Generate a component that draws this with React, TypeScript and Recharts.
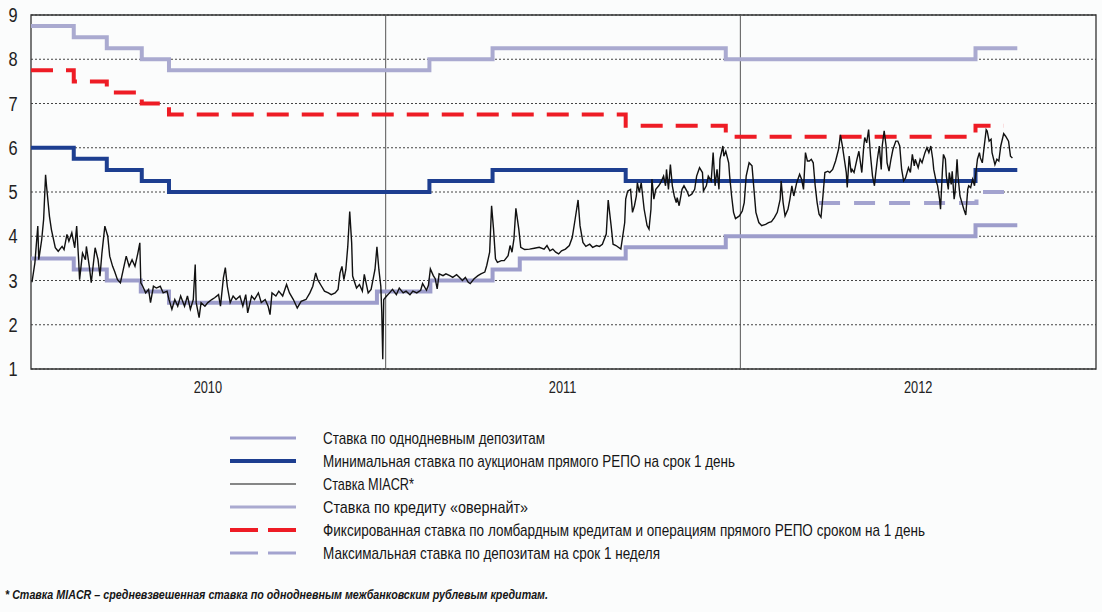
import { LineChart, Line, XAxis, YAxis, CartesianGrid, ReferenceLine, ReferenceArea } from 'recharts';

// x = days since 1 Jan 2010
const yearLabels = ['2010', '2011', '2012'];
const yearMidDays = [182, 547, 913];
const yearBreakDays = [365, 730];
const rateTicks = [1, 2, 3, 4, 5, 6, 7, 8, 9];

const depositDays = [0, 44, 78, 113, 142, 356, 411, 475, 503, 612, 715, 972, 1015];
const depositRates = [3.5, 3.25, 3.0, 2.75, 2.5, 2.75, 3.0, 3.25, 3.5, 3.75, 4.0, 4.25, 4.25];

const repoMinDays = [0, 44, 78, 114, 142, 410, 475, 612, 972, 1015];
const repoMinRates = [6.0, 5.75, 5.5, 5.25, 5.0, 5.25, 5.5, 5.25, 5.5, 5.5];

const overnightDays = [0, 44, 78, 114, 142, 410, 475, 715, 972, 1015];
const overnightRates = [8.75, 8.5, 8.25, 8.0, 7.75, 8.0, 8.25, 8.0, 8.25, 8.25];

const lombardDays = [0, 44, 78, 114, 142, 612, 715, 972, 1001];
const lombardRates = [7.75, 7.5, 7.25, 7.0, 6.75, 6.5, 6.25, 6.5, 6.5];

const weekDepDays = [811, 973, 1005];
const weekDepRates = [4.75, 5.0, 5.0];

const miacrDays = [
  1, 4, 7, 8, 11, 13, 15, 16, 19, 21, 25, 28, 32, 34, 37, 39, 42, 45, 47, 49, 50, 53, 56, 57, 60, 62, 66, 69, 71, 73,
  76, 79, 81, 84, 86, 89, 92, 95, 98, 101, 104, 107, 110, 112, 113, 115, 118, 121, 123, 126, 129, 133, 136, 140, 142,
  145, 148, 151, 154, 158, 161, 164, 167, 169, 170, 173, 175, 179, 182, 186, 189, 193, 195, 198, 200, 202, 205, 208,
  211, 215, 218, 221, 223, 227, 230, 234, 237, 241, 244, 246, 248, 252, 255, 259, 263, 266, 270, 274, 278, 283, 287,
  290, 293, 295, 299, 302, 306, 309, 313, 316, 318, 320, 322, 324, 326, 328, 330, 331, 335, 338, 341, 343, 347, 350,
  354, 356, 358, 360, 361, 362, 363, 366, 369, 372, 376, 379, 383, 386, 390, 393, 397, 401, 403, 407, 409, 411, 414,
  416, 418, 420, 424, 427, 431, 434, 438, 441, 444, 447, 450, 452, 456, 460, 463, 467, 469, 472, 474, 476, 478, 480,
  484, 487, 491, 493, 495, 497, 499, 502, 504, 508, 513, 518, 523, 528, 531, 534, 537, 540, 543, 546, 550, 554, 557,
  560, 563, 565, 568, 571, 575, 578, 582, 585, 588, 592, 594, 597, 599, 602, 607, 609, 611, 612, 614, 617, 619, 621,
  623, 624, 626, 628, 631, 634, 636, 638, 639, 641, 643, 646, 648, 651, 653, 654, 656, 658, 660, 662, 664, 665, 667,
  670, 672, 675, 677, 680, 683, 685, 688, 691, 692, 695, 697, 700, 702, 704, 706, 708, 709, 712, 713, 715, 718, 719,
  721, 723, 725, 729, 732, 734, 736, 739, 742, 744, 746, 749, 752, 756, 759, 762, 765, 768, 771, 772, 774, 776, 779,
  781, 783, 785, 788, 791, 793, 795, 797, 799, 801, 803, 805, 807, 809, 811, 813, 815, 817, 820, 822, 825, 828, 831,
  833, 835, 837, 839, 840, 842, 844, 845, 847, 850, 852, 855, 857, 858, 860, 862, 864, 866, 868, 869, 871, 873, 875,
  876, 878, 880, 881, 883, 885, 887, 890, 892, 894, 896, 898, 900, 903, 905, 907, 909, 910, 913, 915, 917, 920, 922,
  924, 926, 928, 929, 931, 933, 935, 936, 938, 939, 941, 942, 944, 945, 947, 948, 950, 951, 953, 954, 956, 958, 960,
  962, 964, 965, 967, 969, 971, 972, 974, 976, 977, 979, 981, 983, 984, 986, 988, 989, 992, 994, 996, 998, 1001, 1003,
  1006, 1008, 1010,
];
const miacrRates = [
  2.96, 3.4, 4.23, 3.47, 3.92, 4.38, 5.39, 5.13, 4.45, 4.15, 3.74, 3.66, 3.77, 3.7, 4.04, 3.89, 4.08, 3.74, 4.23, 3.47,
  3.02, 3.62, 3.47, 3.77, 3.32, 2.95, 3.74, 3.47, 3.1, 3.62, 4.23, 4.0, 3.55, 3.32, 3.21, 3.02, 2.95, 3.25, 3.55, 3.32,
  3.47, 3.32, 3.62, 3.85, 2.95, 2.87, 2.72, 2.8, 2.5, 2.87, 2.83, 2.87, 2.72, 2.76, 2.57, 2.35, 2.57, 2.42, 2.65, 2.42,
  2.65, 2.35, 2.57, 3.36, 2.5, 2.16, 2.5, 2.42, 2.5, 2.57, 2.61, 2.68, 2.42, 3.06, 3.29, 2.87, 2.5, 2.65, 2.57, 2.65,
  2.42, 2.68, 2.27, 2.65, 2.57, 2.72, 2.5, 2.57, 2.42, 2.23, 2.72, 2.65, 2.76, 2.65, 2.91, 2.72, 2.57, 2.38, 2.53, 2.57,
  2.72, 2.87, 3.17, 3.02, 2.87, 2.76, 2.72, 2.68, 2.72, 2.8, 3.17, 3.32, 3.02, 3.25, 3.77, 4.56, 3.85, 3.1, 2.83, 2.91,
  2.76, 3.14, 2.72, 2.8, 3.25, 3.76, 3.25, 2.87, 2.27, 1.22, 2.57, 2.65, 2.72, 2.8, 2.68, 2.83, 2.72, 2.76, 2.68, 2.76,
  2.72, 2.78, 2.93, 2.78, 2.89, 3.26, 3.11, 3.04, 2.81, 3.15, 3.11, 3.15, 3.11, 3.07, 3.13, 3.07, 3.0, 3.07, 2.96, 2.93,
  3.04, 3.11, 3.15, 3.19, 3.34, 3.64, 4.69, 4.16, 3.49, 3.41, 3.45, 3.45, 3.56, 3.79, 3.64, 3.94, 4.63, 4.16, 3.75, 3.7,
  3.71, 3.73, 3.75, 3.71, 3.79, 3.67, 3.71, 3.64, 3.6, 3.67, 3.71, 3.79, 3.97, 4.39, 4.82, 4.24, 3.86, 3.77, 3.82, 3.75,
  3.79, 3.77, 3.82, 4.05, 4.82, 4.24, 3.82, 3.79, 3.71, 4.01, 4.31, 4.84, 5.02, 5.06, 4.54, 4.69, 4.91, 5.21, 4.99, 5.21,
  4.61, 4.24, 4.16, 4.61, 5.29, 4.84, 5.06, 5.14, 5.21, 5.36, 5.14, 5.51, 5.06, 5.62, 5.14, 4.91, 4.76, 4.87, 4.69, 5.06,
  5.14, 5.02, 4.91, 4.95, 5.06, 5.36, 5.55, 5.44, 5.02, 5.14, 5.36, 5.25, 5.89, 5.14, 5.51, 5.06, 5.74, 6.04, 5.81, 5.92,
  5.66, 5.36, 4.91, 4.54, 4.4, 4.46, 4.57, 4.76, 5.36, 5.66, 5.59, 5.06, 4.54, 4.31, 4.24, 4.27, 4.31, 4.33, 4.42, 4.54,
  4.84, 5.25, 4.76, 4.46, 4.61, 4.84, 5.14, 4.91, 5.21, 5.4, 5.29, 5.06, 5.89, 5.7, 5.7, 5.74, 5.66, 5.14, 4.76, 4.5,
  4.43, 4.91, 5.44, 5.47, 5.44, 5.51, 5.7, 5.96, 6.29, 6.04, 5.74, 5.44, 5.1, 5.81, 5.44, 5.51, 5.44, 5.74, 5.92, 5.44,
  6.04, 6.23, 6.11, 6.41, 5.81, 5.36, 5.14, 5.36, 5.74, 6.04, 5.51, 6.04, 6.38, 6.04, 5.66, 5.47, 5.74, 5.96, 6.15, 6.15,
  6.04, 5.51, 5.25, 5.32, 5.55, 5.44, 5.85, 5.59, 5.74, 5.55, 5.74, 5.66, 5.89, 6.0, 5.89, 6.04, 5.74, 5.51, 5.29, 5.14,
  4.84, 4.61, 5.51, 5.85, 5.74, 5.36, 5.06, 5.44, 5.17, 5.47, 4.84, 4.99, 5.74, 5.36, 4.91, 4.76, 4.61, 4.48, 5.06, 5.14,
  5.1, 5.29, 5.14, 5.36, 5.74, 5.89, 5.77, 5.66, 6.04, 6.41, 6.38, 6.15, 6.19, 5.89, 5.62, 5.74, 5.7, 6.04, 6.32, 6.26,
  6.15, 5.81, 5.77,
];

const legendNames = [
  'Ставка по однодневным депозитам',
  'Минимальная ставка по аукционам прямого РЕПО на срок 1 день',
  'Ставка MIACR*',
  'Ставка по кредиту «овернайт»',
  'Фиксированная ставка по ломбардным кредитам и операциям прямого РЕПО сроком на 1 день',
  'Максимальная ставка по депозитам на срок 1 неделя',
];
const footnote = '* Ставка MIACR – средневзвешенная ставка по однодневным межбанковским рублевым кредитам.';

// the original uses a condensed face; squeeze Liberation Sans to the same text widths
const font = "'Liberation Sans', Arial, sans-serif";
const legendTextWidths = [222, 412, 91, 205, 602, 337];
const footnoteWidth = 543;

const toPoints = (days: number[], rates: number[]) => days.map((day, i) => ({ day, rate: rates[i] }));

const styles = [
  { color: '#9d9dcb', width: 4, dash: undefined as string | undefined },
  { color: '#1d3e90', width: 4, dash: undefined },
  { color: '#111111', width: 1.4, dash: undefined },
  { color: '#aaaad0', width: 4, dash: undefined },
  { color: '#ee1c25', width: 4, dash: '22 13' },
  { color: '#a3a3cf', width: 4, dash: '21 14' },
];

const YTick = ({ y, payload }: any) => (
  <text transform={`translate(13,${y + 7}) scale(0.78,1)`} textAnchor="middle" fontSize={21} fontFamily={font} fill="#222">
    {payload.value}
  </text>
);

// recharts hands the tick a y already 8px below the axis
const XTick = ({ x, y, payload }: any) => (
  <text transform={`translate(${x},${y + 16}) scale(0.8,1)`} textAnchor="middle" fontSize={16} fontFamily={font} fill="#222">
    {yearLabels[yearMidDays.indexOf(payload.value)]}
  </text>
);

const FitText = ({ text, width, size, italic }: { text: string; width: number; size: number; italic?: boolean }) => (
  <svg width={Math.round(width * 1.45)} height={size + 10} overflow="visible" style={{ display: 'block', overflow: 'visible' }}>
    <text
      x={0}
      y={size + 1}
      textLength={width}
      lengthAdjust="spacingAndGlyphs"
      fontSize={size}
      fontFamily={font}
      fontStyle={italic ? 'italic' : 'normal'}
      fontWeight={italic ? 'bold' : 'normal'}
      fill="#151515"
    >
      {text}
    </text>
  </svg>
);

export default function App() {
  const series = [
    toPoints(depositDays, depositRates),
    toPoints(repoMinDays, repoMinRates),
    toPoints(miacrDays, miacrRates),
    toPoints(overnightDays, overnightRates),
    toPoints(lombardDays, lombardRates),
    toPoints(weekDepDays, weekDepRates),
  ];
  // draw order: light lines first, MIACR on top
  const order = [0, 3, 5, 4, 1, 2];

  return (
    <div style={{ position: 'relative', width: 1102, height: 612, background: '#fbfcfc', overflow: 'hidden' }}>
      <style>{`body{margin:0}`}</style>
      <LineChart width={1102} height={400} margin={{ top: 15, right: 6, left: 0, bottom: 0 }}>
        <CartesianGrid vertical={false} stroke="#444" strokeDasharray="2 2" />
        <XAxis
          type="number"
          dataKey="day"
          domain={[0, 1096]}
          ticks={yearMidDays}
          tick={<XTick />}
          tickLine={false}
          axisLine={false}
          height={31}
          allowDuplicatedCategory={false}
        />
        <YAxis
          type="number"
          domain={[1, 9]}
          ticks={rateTicks}
          tick={<YTick />}
          tickLine={false}
          axisLine={false}
          width={31}
        />
        {yearBreakDays.map((d) => (
          <ReferenceLine key={d} x={d} stroke="#555" strokeWidth={1} />
        ))}
        <ReferenceArea x1={0} x2={1096} y1={1} y2={9} fill="none" stroke="#333" strokeWidth={1.3} />
        {order.map((i) => (
          <Line
            key={i}
            data={series[i]}
            dataKey="rate"
            type={i === 2 ? 'linear' : 'stepAfter'}
            stroke={styles[i].color}
            strokeWidth={styles[i].width}
            strokeDasharray={styles[i].dash}
            dot={false}
            activeDot={false}
            isAnimationActive={false}
          />
        ))}
      </LineChart>

      {legendNames.map((name, i) => (
        <div key={name} style={{ position: 'absolute', left: 230, top: 426 + i * 23, height: 24, display: 'flex', alignItems: 'center' }}>
          <svg width={66} height={20} style={{ display: 'block' }}>
            <line
              x1={0}
              x2={66}
              y1={10}
              y2={10}
              stroke={styles[i].color}
              strokeWidth={i === 2 ? 1.2 : i === 1 || i === 4 ? 4 : 3}
              strokeDasharray={styles[i].dash ? '28 10' : undefined}
            />
          </svg>
          <div style={{ marginLeft: 27, marginTop: 2 }}>
            <FitText text={name} width={legendTextWidths[i]} size={17} />
          </div>
        </div>
      ))}

      <div style={{ position: 'absolute', left: 5, top: 585 }}>
        <FitText text={footnote} width={footnoteWidth} size={13} italic />
      </div>
    </div>
  );
}
